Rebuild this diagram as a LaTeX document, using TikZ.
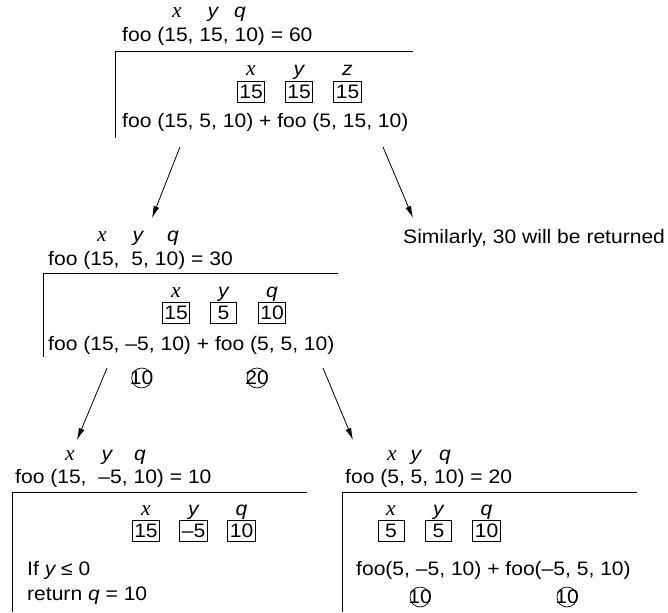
\documentclass[tikz,border=0pt]{standalone}
\usepackage{fontspec}
\setmainfont{Liberation Sans}[FakeStretch=1.08]
\newfontfamily\xserif{Liberation Serif}[Scale=1.1]
\usepackage{tikz}
\usetikzlibrary{positioning}
\usetikzlibrary{arrows.meta}
\newcommand{\vx}{{\xserif\itshape x}}
\newcommand{\vy}{{\itshape y}}
\newcommand{\vq}{{\itshape q}}
\newcommand{\vz}{{\itshape z}}

\begin{document}
\begin{tikzpicture}[x=1pt, y=-1pt,
			font=\fontsize{19.5}{23}\selectfont,
			txt/.style={anchor=base west, inner sep=0pt},
			var/.style={anchor=base, inner sep=0pt},
			lab/.style={inner sep=0pt, text height=9pt, text depth=4.5pt},
			val/.style={draw, line width=0.7pt, minimum width=26pt, minimum height=21pt, inner xsep=2pt, inner ysep=0pt},
			circ/.style={draw, circle, line width=0.7pt, minimum size=20pt, inner sep=0pt},
			frame/.style={line width=0.8pt},
			arr/.style={line width=0.8pt, -{Latex[length=12pt, width=6pt]}}]
			\useasboundingbox (0,0) rectangle (668,612);
			% foo (15, 15, 10)
			\node[var](tx) at (177,18){\vx};
			\node[var](ty) at (213,18){\vy};
			\node[var](tq) at (240,18){\vq};
			\node[txt](tfoo) at (122,42){foo (15, 15, 10) = 60};
			\draw[frame] (413,51) -| (115,138);
			\node[val, label={[lab]above:\vx}](tbx) at (251,91.5){15};
			\node[val, label={[lab]above:\vy}](tby) at (299,91.5){15};
			\node[val, label={[lab]above:\vz}](tbz) at (347.5,91.5){15};
			\node[txt](tcall) at (122,128){foo (15, 5, 10) + foo (5, 15, 10)};
			\node[txt](sim) at (403,243){Similarly, 30 will be returned};
			\coordinate (tl) at (180,147);
			\coordinate (tr) at (383,147);
			\coordinate (ml) at (152,218);
			\coordinate (mr) at (413,218);
			\draw[arr] (tl) -- (ml);
			\draw[arr] (tr) -- (mr);
			% foo (15, 5, 10)
			\node[var](mx) at (102,241){\vx};
			\node[var](my) at (138,241){\vy};
			\node[var](mq) at (173,241){\vq};
			\node[txt](mfoo) at (48,265){foo (15,\hspace{6pt} 5, 10) = 30};
			\draw[frame] (338,273) -| (43,357);
			\node[val, label={[lab]above:\vx}](mbx) at (176,313){15};
			\node[val, label={[lab]above:\vy}](mby) at (223.5,313){5};
			\node[val, label={[lab]above:\vq}](mbq) at (272,313){10};
			\node[txt](mcall) at (48,350){foo (15, –5, 10) + foo (5, 5, 10)};
			\node[circ](mc1) at (141.7,378){\makebox[0pt]{10}};
			\node[circ](mc2) at (257,378){\makebox[0pt]{20}};
			\coordinate (ms) at (107,368);
			\coordinate (mt) at (323,368);
			\coordinate (ll) at (77,440);
			\coordinate (rr) at (353,440);
			\draw[arr] (ms) -- (ll);
			\draw[arr] (mt) -- (rr);
			% foo (15, -5, 10)
			\node[var](lx) at (70,460){\vx};
			\node[var](ly) at (107,460){\vy};
			\node[var](lq) at (140,460){\vq};
			\node[txt](lfoo) at (15,483){foo (15,\hspace{6pt} –5, 10) = 10};
			\draw[frame] (307,492) -| (12,612);
			\node[val, label={[lab]above:\vx}](lbx) at (146,531){15};
			\node[val, label={[lab]above:\vy}](lby) at (193.5,531){–5};
			\node[val, label={[lab]above:\vq}](lbq) at (241.5,531){10};
			\node[txt](lif) at (27,575){If \vy\ ≤ 0};
			\node[txt](lret) at (27,600){return \vq\ = 10};
			% foo (5, 5, 10)
			\node[var](rx) at (392,460){\vx};
			\node[var](ry) at (416,460){\vy};
			\node[var](rq) at (445,460){\vq};
			\node[txt](rfoo) at (345,483){foo (5, 5, 10) = 20};
			\draw[frame] (637,492) -| (342,612);
			\node[val, label={[lab]above:\vx}](rbx) at (391,531){5};
			\node[val, label={[lab]above:\vy}](rby) at (438.5,531){5};
			\node[val, label={[lab]above:\vq}](rbq) at (486.5,531){10};
			\node[txt](rcall) at (356,575){foo(5, –5, 10) + foo(–5, 5, 10)};
			\node[circ](rc1) at (420,597){\makebox[0pt]{10}};
			\node[circ](rc2) at (567,597){\makebox[0pt]{10}};
\end{tikzpicture}
\end{document}
